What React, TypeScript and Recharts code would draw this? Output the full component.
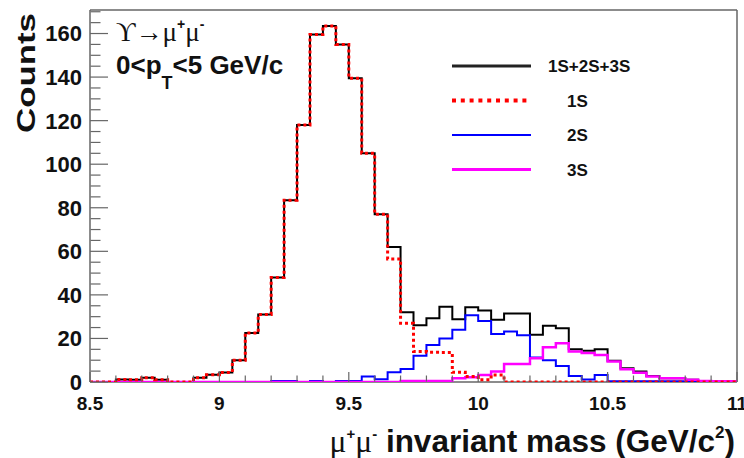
import { LineChart, Line, XAxis, YAxis, Legend, ReferenceLine } from 'recharts';

// bin low edges (GeV/c^2), last entry closes the final bin
const massEdges = [
  8.5, 8.55, 8.6, 8.65, 8.7, 8.75, 8.8, 8.85, 8.9, 8.95,
  9, 9.05, 9.1, 9.15, 9.2, 9.25, 9.3, 9.35, 9.4, 9.45,
  9.5, 9.55, 9.6, 9.65, 9.7, 9.75, 9.8, 9.85, 9.9, 9.95,
  10, 10.05, 10.1, 10.15, 10.2, 10.25, 10.3, 10.35, 10.4, 10.45,
  10.5, 10.55, 10.6, 10.65, 10.7, 10.75, 10.8, 10.85, 10.9, 10.95,
  11,
];

const totalCounts = [
  0, 0, 1.2, 1, 2, 1, 0, 0, 2, 3.3,
  4.4, 10, 22.5, 31, 48, 83.5, 118, 159.5, 163.5, 155,
  139.5, 105, 77, 62, 32, 26, 29.3, 34.5, 28.8, 34.3,
  32.8, 28.6, 31.5, 31.5, 21.7, 25.8, 24.7, 15, 14.4, 15,
  9.8, 6.3, 4.8, 2.8, 1.7, 1.7, 1, 0.3, 0.3, 0.3,
];

const counts1S = [
  0, 0, 1.2, 1, 2, 1, 0, 0, 2, 3.3,
  4.4, 10, 22.5, 31, 48, 83.5, 118, 159.5, 163.5, 155,
  139.5, 105, 77, 56.5, 27, 14, 13.7, 13.6, 4.5, 2.5,
  1, 3.2, 0, 0, 0, 0, 0, 0, 0, 0,
  0, 0, 0, 0, 0, 0, 0, 0, 0, 0,
];

const counts2S = [
  0, 0, 0, 0, 0, 0, 0, 0, 0, 0,
  0, 0, 0, 0, 0.5, 0.5, 0, 0.5, 0, 0.5,
  0.5, 2.5, 1.3, 4.5, 6, 12, 17, 20, 24, 30.6,
  28, 22, 23.2, 21.5, 11.3, 10, 7.4, 2.8, 1.2, 3.2,
  0.3, 0.3, 0.3, 0.3, 0.3, 0.3, 0.3, 0, 0, 0,
];

const counts3S = [
  0, 0, 0, 0, 0, 0, 0, 0, 0, 0,
  0, 0, 0, 0, 0, 0, 0, 0, 0, 0,
  0, 0, 0, 0, 0.5, 0.5, 0.5, 0.5, 1.7, 2.2,
  3.2, 4.8, 8.3, 8.3, 10.9, 16, 17.8, 14, 13.3, 12.4,
  9.4, 5.8, 4.3, 2.5, 1.7, 1.7, 1, 0.5, 0.3, 0.3,
];

const xTicks = [8.5, 9, 9.5, 10, 10.5, 11];
const xMinorTicks = [
  8.6, 8.7, 8.8, 8.9, 9.1, 9.2, 9.3, 9.4, 9.6, 9.7, 9.8, 9.9,
  10.1, 10.2, 10.3, 10.4, 10.6, 10.7, 10.8, 10.9,
];
const yTicks = [0, 20, 40, 60, 80, 100, 120, 140, 160];
const yMinorTicks = [
  5, 10, 15, 25, 30, 35, 45, 50, 55, 65, 70, 75, 85, 90, 95,
  105, 110, 115, 125, 130, 135, 145, 150, 155, 165, 170,
];
const X_MIN = 8.5;
const X_MAX = 11;
const Y_MAX = 170.8;

const series = [
  { key: 'total', name: '1S+2S+3S', color: '#000000' },
  { key: 's1', name: '1S', color: '#ff0000' },
  { key: 's2', name: '2S', color: '#0000ff' },
  { key: 's3', name: '3S', color: '#ff00ff' },
];

// step data: each point is a bin's low edge, the closing edge repeats the last bin
const rows = massEdges.map((m, i) => {
  const j = Math.min(i, totalCounts.length - 1);
  return { m, total: totalCounts[j], s1: counts1S[j], s2: counts2S[j], s3: counts3S[j] };
});

const SANS = '"Liberation Sans", Arial, Helvetica, sans-serif';
const SERIF = '"Liberation Serif", "DejaVu Serif", serif';
const frameColor = '#666';

const noLabel = () => <g />;

function XTick({ x, y, payload }: any) {
  return (
    <text x={x} y={y + 28} textAnchor="middle" fontFamily={SANS} fontWeight="bold" fontSize={19} fill="#111">
      {payload.value}
    </text>
  );
}

function YTick({ x, y, payload }: any) {
  return (
    <text x={x} y={y} dy="0.36em" textAnchor="end" fontFamily={SANS} fontWeight="bold" fontSize={22} fill="#111">
      {payload.value}
    </text>
  );
}

function CountsTitle() {
  return (
    <text
      x={35}
      y={73}
      transform="rotate(-90 35 73)"
      textAnchor="middle"
      fontFamily={SANS}
      fontWeight="bold"
      fontSize={25}
      textLength={120}
      lengthAdjust="spacingAndGlyphs"
      fill="#111"
    >
      Counts
    </text>
  );
}

function MassTitle() {
  return (
    <text x={735} y={452} textAnchor="end" fontFamily={SANS} fontWeight="bold" fontSize={31.5} fill="#111">
      <tspan fontFamily={SERIF} fontWeight="normal">μ</tspan>
      <tspan fontSize={15} dy={-13}>+</tspan>
      <tspan fontFamily={SERIF} fontWeight="normal" dy={13}>μ</tspan>
      <tspan fontSize={15} dy={-13}>-</tspan>
      <tspan dy={13}> invariant mass (GeV/c</tspan>
      <tspan fontSize={17} dy={-14}>2</tspan>
      <tspan dy={14}>)</tspan>
    </text>
  );
}

function LegendBox() {
  return (
    <svg width={230} height={140}>
      {series.map((s, i) => {
        const y = 16 + i * 34.5;
        return (
          <g key={s.key}>
            <line
              x1={12}
              x2={91}
              y1={y}
              y2={y}
              stroke={s.key === 'total' ? '#222' : s.color}
              strokeWidth={s.key === 's1' ? 4 : s.key === 's2' ? 2 : 3}
              strokeDasharray={s.key === 's1' ? '4 4.8' : undefined}
            />
            <text
              x={i === 0 ? 108 : 127}
              y={y}
              dy="0.36em"
              fontFamily={SANS}
              fontWeight="bold"
              fontSize={17}
              fill="#111"
            >
              {s.name}
            </text>
          </g>
        );
      })}
    </svg>
  );
}

export default function App() {
  const tickStroke = { stroke: frameColor, strokeWidth: 1.2 };
  return (
    <div style={{ position: 'absolute', left: 0, top: 0, width: 744, height: 458, background: '#fff' }}>
      <LineChart width={744} height={458} data={rows} margin={{ top: 10, right: 7, bottom: 0, left: 0 }}>
        <XAxis
          xAxisId="m"
          dataKey="m"
          type="number"
          domain={[X_MIN, X_MAX]}
          ticks={xTicks}
          interval={0}
          height={76}
          tickSize={0}
          tickMargin={0}
          tickLine={false}
          axisLine={false}
          tick={<XTick />}
          label={MassTitle}
          allowDataOverflow
        />
        <XAxis
          xAxisId="major"
          dataKey="m"
          type="number"
          domain={[X_MIN, X_MAX]}
          ticks={xTicks}
          interval={0}
          mirror
          height={0.5}
          tick={noLabel}
          tickSize={10}
          axisLine={false}
          tickLine={tickStroke}
          allowDataOverflow
        />
        <XAxis
          xAxisId="minor"
          dataKey="m"
          type="number"
          domain={[X_MIN, X_MAX]}
          ticks={xMinorTicks}
          interval={0}
          mirror
          height={0.5}
          tick={noLabel}
          tickSize={6}
          axisLine={false}
          tickLine={tickStroke}
          allowDataOverflow
        />
        <YAxis
          yAxisId="c"
          type="number"
          domain={[0, Y_MAX]}
          ticks={yTicks}
          interval={0}
          width={90}
          tickSize={0}
          tickMargin={8}
          tickLine={false}
          axisLine={false}
          tick={<YTick />}
          label={CountsTitle}
          allowDataOverflow
        />
        <YAxis
          yAxisId="major"
          type="number"
          domain={[0, Y_MAX]}
          ticks={yTicks}
          interval={0}
          mirror
          width={0.5}
          tick={noLabel}
          tickSize={18}
          axisLine={false}
          tickLine={tickStroke}
          allowDataOverflow
        />
        <YAxis
          yAxisId="minor"
          type="number"
          domain={[0, Y_MAX]}
          ticks={yMinorTicks}
          interval={0}
          mirror
          width={0.5}
          tick={noLabel}
          tickSize={10}
          axisLine={false}
          tickLine={tickStroke}
          allowDataOverflow
        />
        <ReferenceLine xAxisId="m" yAxisId="c" x={X_MIN} stroke={frameColor} strokeWidth={1.5} ifOverflow="visible" />
        <ReferenceLine xAxisId="m" yAxisId="c" x={X_MAX} stroke={frameColor} strokeWidth={1.5} ifOverflow="visible" />
        <ReferenceLine xAxisId="m" yAxisId="c" y={0} stroke={frameColor} strokeWidth={1.5} ifOverflow="visible" />
        <ReferenceLine xAxisId="m" yAxisId="c" y={Y_MAX} stroke={frameColor} strokeWidth={1.5} ifOverflow="visible" />
        <Line xAxisId="m" yAxisId="c" type="stepAfter" dataKey="total" stroke="#000" strokeWidth={2} dot={false} isAnimationActive={false} />
        <Line xAxisId="m" yAxisId="c" type="stepAfter" dataKey="s2" stroke="#0000ff" strokeWidth={2} dot={false} isAnimationActive={false} />
        <Line xAxisId="m" yAxisId="c" type="stepAfter" dataKey="s3" stroke="#ff00ff" strokeWidth={2.5} dot={false} isAnimationActive={false} />
        <Line xAxisId="m" yAxisId="c" type="stepAfter" dataKey="s1" stroke="#ff0000" strokeWidth={3} strokeDasharray="3 3" dot={false} isAnimationActive={false} />
        <Legend
          layout="vertical"
          align="center"
          verticalAlign="middle"
          content={<LegendBox />}
          wrapperStyle={{ left: 440, top: 50, width: 230, height: 140 }}
        />
      </LineChart>
      <svg width={744} height={458} style={{ position: 'absolute', left: 0, top: 0, pointerEvents: 'none' }}>
        <text x={116} y={41} fontFamily={SERIF} fontSize={27} fill="#111">
          ϒ→μ
          <tspan fontFamily={SANS} fontWeight="bold" fontSize={14} dy={-12}>+</tspan>
          <tspan dy={12}>μ</tspan>
          <tspan fontFamily={SANS} fontWeight="bold" fontSize={14} dy={-12}>-</tspan>
        </text>
        <text x={116} y={74} fontFamily={SANS} fontWeight="bold" fontSize={26} fill="#111">
          0&lt;p
          <tspan fontSize={18} dy={15}>T</tspan>
          <tspan dy={-15}>&lt;5 GeV/c</tspan>
        </text>
      </svg>
    </div>
  );
}
